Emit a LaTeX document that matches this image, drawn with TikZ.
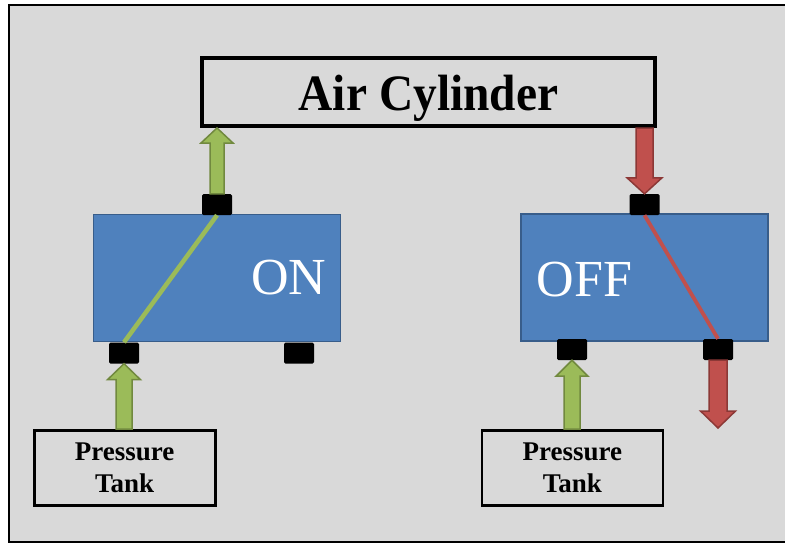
\documentclass[tikz,border=0pt]{standalone}
\usepackage{fontspec}
\setmainfont{Liberation Serif}
\usetikzlibrary{calc}
\definecolor{bggray}{HTML}{D9D9D9}
\definecolor{vblue}{HTML}{4F81BD}
\definecolor{vblueb}{HTML}{385D8A}
\definecolor{agreen}{HTML}{9BBB59}
\definecolor{agreenb}{HTML}{71893F}
\definecolor{ared}{HTML}{C0504D}
\definecolor{aredb}{HTML}{8C3836}
% #1 style, #2 from, #3 tip, #4 shaft half width, #5 head half width, #6 head length
\newcommand\blockarrow[6]{%
  \coordinate (ahb) at ($(#3)!#6!(#2)$);
  \draw[#1] ($(#2)!#4!90:(#3)$) -- ($(ahb)!#4!90:(#3)$) -- ($(ahb)!#5!90:(#3)$) -- (#3)
    -- ($(ahb)!#5!-90:(#3)$) -- ($(ahb)!#4!-90:(#3)$) -- ($(#2)!#4!-90:(#3)$) -- cycle;
}
\begin{document}
\begin{tikzpicture}[x=1pt,y=-1pt,
  valvebox/.style={draw=vblueb, line width=1.5pt, fill=vblue, minimum width=247pt, minimum height=127pt, inner sep=0pt},
  port/.style={fill=black, rounded corners=1.5pt, minimum width=30pt, minimum height=21pt, inner sep=0pt},
  tankbox/.style={draw=black, line width=2.6pt, fill=bggray, minimum width=181pt, minimum height=75pt, inner sep=0pt,
    align=center, font=\fontsize{27}{32}\selectfont\bfseries},
  greenarrow/.style={fill=agreen, draw=agreenb, line width=1.5pt, line join=miter},
  redarrow/.style={fill=ared, draw=aredb, line width=1.5pt, line join=miter},
  statetext/.style={text=white, font=\fontsize{52}{52}\selectfont, inner sep=0pt}
]
\useasboundingbox (0,0) rectangle (785,544);
\clip (0,0) rectangle (785,544);
\fill[white] (0,0) rectangle (785,544);
\draw[line width=2pt, fill=bggray] (9,5) rectangle (800,542);

% air cylinder
\node[draw=black, line width=4pt, fill=bggray, minimum width=453pt, minimum height=68pt,
      text height=36pt, text depth=0pt, font=\fontsize{51}{51}\selectfont\bfseries] (cyl) at (428.5,92)
      {\scalebox{0.93}[1]{Air Cylinder}};

% pressure tanks
\node[tankbox] (tankL) at (124.7,468) {Pressure\\Tank};
\node[tankbox] (tankR) at (572.3,468) {Pressure\\Tank};

% valves
\node[valvebox] (vL) at (217,278) {};
\node[valvebox] (vR) at (644.5,277.5) {};
\node[statetext] (on) at (289,278) {ON};
\node[statetext] (off) at (584.5,280) {OFF};

% ports
\node[port] (lt) at (217,204.5) {};
\node[port] (lbl) at (124,353) {};
\node[port] (lbr) at (299,353) {};
\node[port] (rt) at (644.5,204.5) {};
\node[port] (rbl) at (572,349.5) {};
\node[port] (rbr) at (718,349.5) {};

% internal passages
\draw[agreen, line width=4.5pt] (lt.south) -- (lbl.north);
\draw[ared, line width=3.8pt] (rt.south) -- (rbr.north);

% flow arrows
\blockarrow{greenarrow}{lt.north}{lt.north |- cyl.south}{7pt}{16pt}{15pt}
\blockarrow{greenarrow}{lbl.south |- tankL.north}{lbl.south}{8pt}{16.5pt}{16pt}
\blockarrow{greenarrow}{rbl.south |- tankR.north}{rbl.south}{8pt}{16pt}{16pt}
\blockarrow{redarrow}{rt.north |- cyl.south}{rt.north}{8.5pt}{17.5pt}{16pt}
\coordinate (drain) at (718,428);
\blockarrow{redarrow}{rbr.south}{drain}{9pt}{17.5pt}{17pt}
\end{tikzpicture}
\end{document}
